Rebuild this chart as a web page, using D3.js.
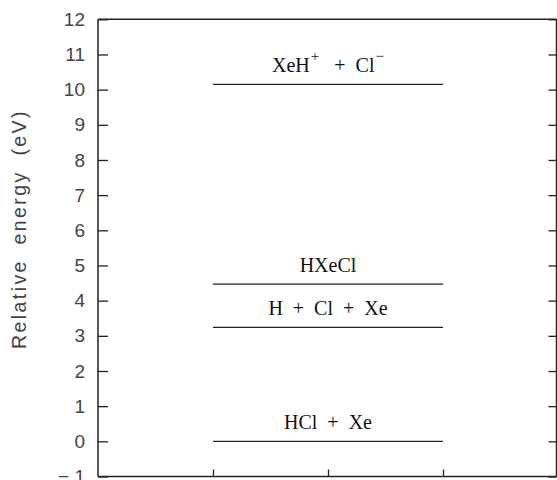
<!DOCTYPE html>
<html>
<head>
<meta charset="utf-8">
<script src="https://cdn.jsdelivr.net/npm/d3@7"></script>
<style>
  html, body { margin: 0; padding: 0; background: #fff; }
  svg { display: block; }
</style>
</head>
<body>
<div id="chart"></div>
<script>
// Energy levels (eV) of the HXeCl system and its fragments
const levelNames = ["HCl + Xe", "H + Cl + Xe", "HXeCl", "XeH+ + Cl-"];
const levelEnergies = [0, 3.24, 4.47, 10.15];
const yTicks = [-1, 0, 1, 2, 3, 4, 5, 6, 7, 8, 9, 10, 11, 12];
const xTicks = [1, 2, 3];

const W = 557, H = 480;
const mLeft = 98, mRight = 556.5, mTop = 19.3, mBottom = 476.5;

const svg = d3.select("#chart").append("svg")
  .attr("width", W).attr("height", H);

const x = d3.scaleLinear().domain([0, 4]).range([mLeft, mLeft + 4 * 115]);
const y = d3.scaleLinear().domain([-1, 12]).range([mBottom, mTop]);

const fmt = d => d < 0 ? "\u2212 " + Math.abs(d) : String(d);

// Left axis with inward ticks
const gL = svg.append("g").attr("transform", `translate(${mLeft},0)`)
  .call(d3.axisLeft(y).tickValues(yTicks).tickSize(-10).tickPadding(13).tickFormat(fmt));
gL.selectAll("text").attr("font-family", "'Liberation Sans', Arial, sans-serif")
  .attr("font-size", 19).attr("fill", "#444").style("white-space", "pre");

// Right axis, inward ticks, no labels
const gR = svg.append("g").attr("transform", `translate(${mRight},0)`)
  .call(d3.axisRight(y).tickValues(yTicks).tickSize(-8).tickFormat(""));

// Bottom axis, inward ticks, no labels
const gB = svg.append("g").attr("transform", `translate(0,${mBottom})`)
  .call(d3.axisBottom(x).tickValues(xTicks).tickSize(-7).tickFormat(""));

// Top border
const gT = svg.append("g").attr("transform", `translate(0,${mTop})`)
  .call(d3.axisTop(x).tickValues([]).tickSizeOuter(0));

[gL, gR, gB, gT].forEach(g => {
  g.select(".domain").attr("stroke", "#222").attr("stroke-width", 1.5);
  g.selectAll(".tick line").attr("stroke", "#222").attr("stroke-width", 1.3);
});
gL.select(".domain").attr("d", `M0,${mBottom}V${mTop}`);
gR.select(".domain").attr("d", `M0,${mBottom}V${mTop}`);
gB.select(".domain").attr("d", `M${mLeft},0H${mRight}`);
gT.select(".domain").attr("d", `M${mLeft},0H${mRight}`);

// Axis title
svg.append("text")
  .attr("transform", `translate(26,229) rotate(-90)`)
  .attr("text-anchor", "middle")
  .attr("font-family", "'Liberation Sans', Arial, sans-serif")
  .attr("font-size", 19.5)
  .attr("fill", "#444")
  .attr("letter-spacing", 2.4)
  .attr("word-spacing", 7)
  .style("white-space", "pre")
  .text("Relative energy (eV)");

// Level lines
const levels = levelNames.map((n, i) => ({ name: n, e: levelEnergies[i] }));
svg.selectAll("line.level").data(levels).enter().append("line")
  .attr("class", "level")
  .attr("x1", x(1)).attr("x2", x(3))
  .attr("y1", d => y(d.e)).attr("y2", d => y(d.e))
  .attr("stroke", "#222").attr("stroke-width", 1.3);

// Level labels (with ionic charges as superscripts)
const lbl = svg.selectAll("text.level").data(levels).enter().append("text")
  .attr("class", "level")
  .attr("x", x(2)).attr("y", d => y(d.e) - 12.5)
  .attr("text-anchor", "middle")
  .attr("font-family", "'Liberation Serif', 'Times New Roman', serif")
  .attr("font-size", 20)
  .attr("fill", "#111")
  .style("white-space", "pre");

lbl.each(function(d) {
  const t = d3.select(this);
  const m = d.name.match(/^(\S+)([+-]) \+ (\S+)([+-])$/);
  if (m) {
    t.append("tspan").text(m[1]);
    t.append("tspan").attr("dy", -11).attr("dx", 1).attr("font-size", 15).text(m[2] === "+" ? "+" : "\u2212");
    t.append("tspan").attr("dy", 11).text("   +  " + m[3]);
    t.append("tspan").attr("dy", -11).attr("dx", 1).attr("font-size", 15).text(m[4] === "+" ? "+" : "\u2212");
  } else {
    t.text(d.name.replace(/ \+ /g, "  +  "));
  }
});
</script>
</body>
</html>
